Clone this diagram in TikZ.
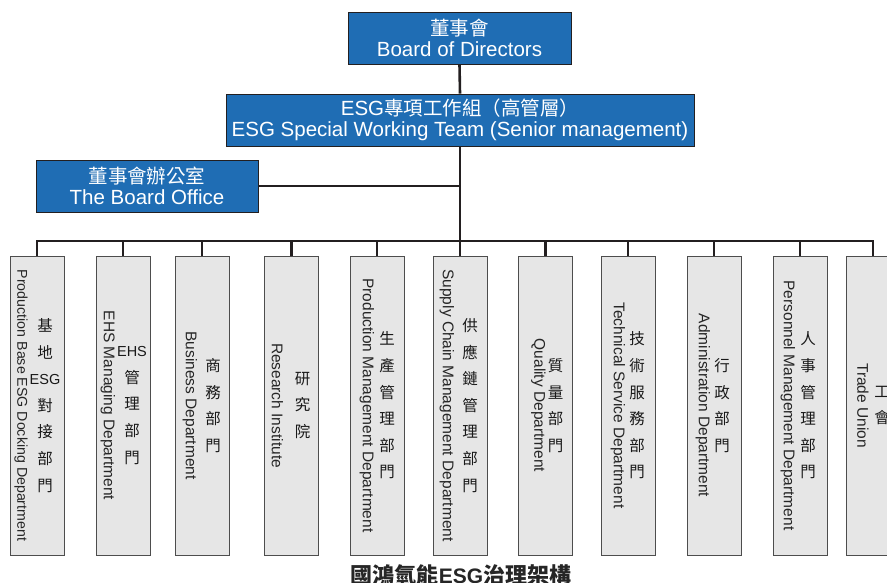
\documentclass[tikz,border=0pt]{standalone}
\usepackage{fontspec}
\setmainfont{Liberation Sans}
\newfontfamily\cjk{Noto Sans CJK TC}
\usetikzlibrary{calc}
\definecolor{esgblue}{HTML}{1F6DB4}
\definecolor{linecol}{HTML}{231F20}
\definecolor{deptfill}{HTML}{E6E6E6}
\definecolor{deptdraw}{HTML}{4D4D4D}
\newcommand\lat{\normalfont\fontsize{14.5}{26.6}\selectfont}
\newcommand\zh[1]{{\cjk\fontsize{19.5}{21}\selectfont #1}}
\begin{document}
\begin{tikzpicture}[x=1pt,y=-1pt,
  topbox/.style={draw=linecol, line width=0.8pt, fill=esgblue, text=white,
    minimum height=52, inner sep=0, align=center,
    font=\fontsize{20.5}{21}\selectfont},
  deptbox/.style={draw=deptdraw, line width=0.7pt, fill=deptfill,
    minimum width=54, minimum height=299, inner sep=0},
  engtxt/.style={rotate=-90, inner sep=0, text=black!85,
    font=\fontsize{15.5}{18}\selectfont},
  zhtxt/.style={inner sep=0, align=center, text=black!90,
    font=\cjk\fontsize{15.5}{26.6}\selectfont},
  conn/.style={draw=linecol, line width=2.6pt},
  thinconn/.style={draw=linecol, line width=1.7pt}]
\useasboundingbox (0,0) rectangle (887,583);
\clip (0,0) rectangle (887,583);

% top boxes
\node[topbox, minimum width=223] (board) at (459.5,38) {\zh{董事會}\\Board of Directors};
\node[topbox, minimum width=468] (esg) at (460,120) {ESG\zh{專項工作組（高管層）}\\ESG Special Working Team (Senior management)};
\node[topbox, minimum width=222] (office) at (147,186) {\zh{董事會辦公室}\\The Board Office};

% department boxes
\node[deptbox] (d1) at (37,405.5) {};
\node[deptbox] (d2) at (123,405.5) {};
\node[deptbox] (d3) at (202,405.5) {};
\node[deptbox] (d4) at (291.5,405.5) {};
\node[deptbox] (d5) at (377,405.5) {};
\node[deptbox] (d6) at (460,405.5) {};
\node[deptbox] (d7) at (545.5,405.5) {};
\node[deptbox] (d8) at (628,405.5) {};
\node[deptbox] (d9) at (714,405.5) {};
\node[deptbox] (d10) at (800,405.5) {};
\node[deptbox] (d11) at (873,405.5) {};

% connectors
\coordinate (bar) at (460,241);
\draw[conn] (board.south) -- (esg.north);
\draw[conn] (esg.south) -- (bar);
\draw[thinconn] (office.east) -- (office.east -| esg.south);
\draw[conn, line join=miter] (d1.north) |- (bar) -| (d11.north);
\foreach \k in {2,...,10} {\draw[conn] (d\k.north) -- (d\k.north |- bar);}

% department texts
\node[engtxt, font=\fontsize{14.2}{18}\selectfont] (d1e) at ($(d1)+(-16,0)$) {Production Base ESG Docking Department};
\node[zhtxt] (d1c) at ($(d1)+(8,0)$) {基\\地\\{\lat ESG}\\對\\接\\部\\門};

\node[engtxt] (d2e) at ($(d2)+(-15,0)$) {EHS Managing Department};
\node[zhtxt] (d2c) at ($(d2)+(9,0)$) {{\lat EHS}\\管\\理\\部\\門};

\node[engtxt] (d3e) at ($(d3)+(-12,0)$) {Business Department};
\node[zhtxt] (d3c) at ($(d3)+(11,0)$) {商\\務\\部\\門};

\node[engtxt] (d4e) at ($(d4)+(-14,0)$) {Research Institute};
\node[zhtxt] (d4c) at ($(d4)+(11,0)$) {研\\究\\院};

\node[engtxt] (d5e) at ($(d5)+(-10,0)$) {Production Management Department};
\node[zhtxt] (d5c) at ($(d5)+(10,0)$) {生\\產\\管\\理\\部\\門};

\node[engtxt] (d6e) at ($(d6)+(-13,0)$) {Supply Chain Management Department};
\node[zhtxt] (d6c) at ($(d6)+(10,0)$) {供\\應\\鏈\\管\\理\\部\\門};

\node[engtxt] (d7e) at ($(d7)+(-7,0)$) {Quality Department};
\node[zhtxt] (d7c) at ($(d7)+(10,0)$) {質\\量\\部\\門};

\node[engtxt] (d8e) at ($(d8)+(-10,0)$) {Technical Service Department};
\node[zhtxt] (d8c) at ($(d8)+(9,0)$) {技\\術\\服\\務\\部\\門};

\node[engtxt] (d9e) at ($(d9)+(-11,0)$) {Administration Department};
\node[zhtxt] (d9c) at ($(d9)+(8,0)$) {行\\政\\部\\門};

\node[engtxt] (d10e) at ($(d10)+(-12,0)$) {Personnel Management Department};
\node[zhtxt] (d10c) at ($(d10)+(8,0)$) {人\\事\\管\\理\\部\\門};

\node[engtxt] (d11e) at ($(d11)+(-10,0)$) {Trade Union};
\node[zhtxt] (d11c) at ($(d11)+(9,0)$) {工\\會};

% caption
\node[inner sep=0, text=black!85] (cap) at (461,575.5)
  {{\cjk\bfseries\fontsize{22}{24}\selectfont 國鴻氫能}{\bfseries\fontsize{21}{24}\selectfont ESG}{\cjk\bfseries\fontsize{22}{24}\selectfont 治理架構}};
\end{tikzpicture}
\end{document}
